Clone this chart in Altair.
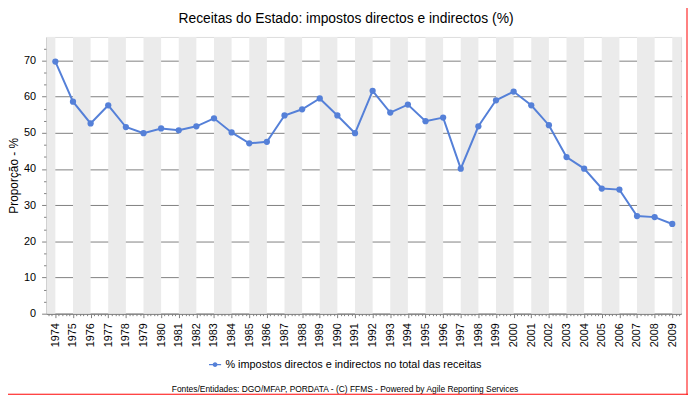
import altair as alt
import pandas as pd

# ---- data ----
years = list(range(1974, 2010))
values = [69.7, 58.6, 52.6, 57.6, 51.6, 49.9, 51.2, 50.7, 51.8, 54.0,
          50.1, 47.1, 47.5, 54.8, 56.5, 59.5, 54.8, 49.9, 61.6, 55.6,
          57.8, 53.2, 54.2, 40.1, 51.8, 59.0, 61.4, 57.6, 52.1, 43.3,
          40.1, 34.6, 34.3, 27.0, 26.7, 24.8]
series_name = "% impostos directos e indirectos no total das receitas"
title_text = "Receitas do Estado: impostos directos e indirectos (%)"
y_title = "Proporção - %"
footer_text = "Fontes/Entidades: DGO/MFAP, PORDATA - (C) FFMS - Powered by Agile Reporting Services"

BLUE = "#5580D8"
GRID = "#808080"
STRIPE = "#EBEBEB"
FONT = "Liberation Sans"

x_dom = [years[0] - 0.5, years[-1] + 0.5]
y_dom = [0, 76.5]

df = pd.DataFrame({"ano": years, "valor": values, "serie": series_name})

# alternating stripes between category centres
stripes = [{"start": x_dom[0], "end": years[0]}]
for i in range(1, len(years), 2):
    stripes.append({"start": years[i], "end": min(years[i] + 1, x_dom[1])})
stripes_df = pd.DataFrame(stripes)

# axis tick positions (majors + minors)
x_ticks = [round(y + k / 5, 2) for y in years for k in range(5)] + [round(years[0] - 0.4, 2), round(years[0] - 0.2, 2)]
y_ticks = [round(m + k * 10 / 3, 3) for m in range(0, 80, 10) for k in range(3) if m + k * 10 / 3 <= y_dom[1]]

x_major = "abs(datum.value - round(datum.value)) < 0.01"
y_major = "abs(datum.value/10 - round(datum.value/10)) < 0.001"

x_axis = alt.Axis(
    values=x_ticks, title=None, labelAngle=-90, labelAlign="right", labelBaseline="middle",
    labelExpr=f"{x_major} ? format(datum.value, 'd') : ''",
    labelOverlap=False, labelFont=FONT, labelFontSize=11, labelColor="#000000",
    labelPadding=5, grid=False, domainColor=GRID, tickColor=GRID,
    tickSize={"condition": {"test": x_major, "value": 4}, "value": 2},
)
y_axis = alt.Axis(
    values=y_ticks, title=y_title, titleFont=FONT, titleFontSize=12, titleFontWeight="normal",
    titleColor="#000000", titleAngle=-90, titleX=-33, titleY=140, titleAlign="center",
    titleBaseline="middle",
    labelExpr=f"{y_major} ? format(datum.value, 'd') : ''",
    labelOverlap=False, labelFont=FONT, labelFontSize=11, labelColor="#000000", labelPadding=6,
    grid=True, gridColor=GRID, gridWidth=1,
    gridOpacity={"condition": {"test": y_major, "value": 1}, "value": 0},
    domainColor=GRID, tickColor=GRID,
    tickSize={"condition": {"test": y_major, "value": 5}, "value": 3},
)

x_scale = alt.Scale(domain=x_dom, nice=False, zero=False)
y_scale = alt.Scale(domain=y_dom, nice=False)

stripe_layer = alt.Chart(stripes_df).mark_rect(color=STRIPE).encode(
    x=alt.X("start:Q", scale=x_scale, axis=x_axis),
    x2="end:Q",
)

legend = alt.Legend(
    title=None, orient="none", legendX=164, legendY=325, direction="horizontal",
    labelFont=FONT, labelFontSize=11, labelColor="#000000", labelLimit=500,
    symbolType="M-1,-0.1H1V0.1H-1Z M0.4,0A0.4,0.4,0,1,1,-0.4,0A0.4,0.4,0,1,1,0.4,0Z",
    symbolSize=150, symbolStrokeWidth=0, symbolFillColor=BLUE,
)
color = alt.Color("serie:N", scale=alt.Scale(domain=[series_name], range=[BLUE]), legend=legend)

line_layer = alt.Chart(df).mark_line(strokeWidth=2).encode(
    x=alt.X("ano:Q", scale=x_scale, axis=x_axis),
    y=alt.Y("valor:Q", scale=y_scale, axis=y_axis),
    color=color,
)
point_layer = alt.Chart(df).mark_point(filled=True, size=40, opacity=1).encode(
    x=alt.X("ano:Q", scale=x_scale, axis=x_axis),
    y=alt.Y("valor:Q", scale=y_scale, axis=y_axis),
    color=color,
)

title_layer = alt.Chart(pd.DataFrame({"t": [title_text]})).mark_text(
    font=FONT, fontSize=14, color="#000000", align="center", baseline="middle"
).encode(text="t:N", x=alt.value(303), y=alt.value(-18))

footer_layer = alt.Chart(pd.DataFrame({"t": [footer_text]})).mark_text(
    font=FONT, fontSize=8.5, color="#000000", align="center", baseline="middle"
).encode(text="t:N", x=alt.value(302), y=alt.value(356))

border_df = pd.DataFrame({"a": [0]})
border_right = alt.Chart(border_df).mark_rule(color="#FF0000", strokeWidth=1).encode(
    x=alt.value(648), y=alt.value(-35), y2=alt.value(362))
border_bottom = alt.Chart(border_df).mark_rule(color="#FF0000", strokeWidth=1).encode(
    x=alt.value(-47), x2=alt.value(649), y=alt.value(361.5))

chart = alt.layer(
    stripe_layer, line_layer, point_layer, title_layer, footer_layer, border_right, border_bottom
).properties(
    width=642, height=280,
    autosize=alt.AutoSizeParams(type="none"),
    padding={"left": 39, "top": 27, "right": 7, "bottom": 82},
).configure_view(stroke=GRID, strokeWidth=1.5).configure(background="#FFFFFF")

chart.save("out.html", embed_options={"renderer": "svg", "actions": False})
